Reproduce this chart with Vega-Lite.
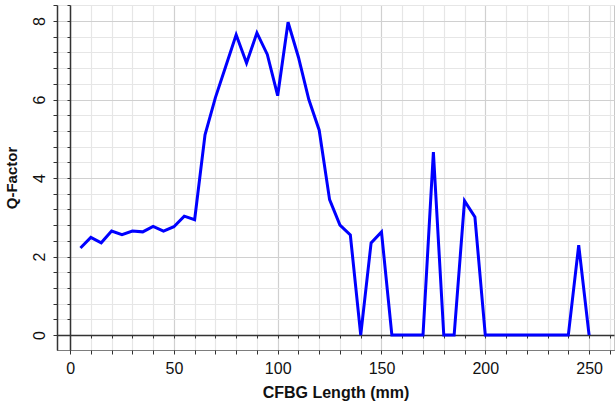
{
  "$schema": "https://vega.github.io/schema/vega-lite/v6.json",
  "width": 557,
  "height": 345,
  "autosize": {"type": "none"},
  "padding": {"left": 57, "top": 5, "right": 2, "bottom": 55},
  "background": "white",
  "config": {
    "view": {"stroke": "#c8c8c8", "strokeWidth": 1},
    "font": "Liberation Sans"
  },
  "data": {
    "values": [
      {"len": 5, "q": 2.22}, {"len": 10, "q": 2.49}, {"len": 15, "q": 2.35}, {"len": 20, "q": 2.65},
      {"len": 25, "q": 2.56}, {"len": 30, "q": 2.65}, {"len": 35, "q": 2.63}, {"len": 40, "q": 2.77},
      {"len": 45, "q": 2.65}, {"len": 50, "q": 2.76}, {"len": 55, "q": 3.03}, {"len": 60, "q": 2.94},
      {"len": 65, "q": 5.1}, {"len": 70, "q": 6.05}, {"len": 75, "q": 6.85}, {"len": 80, "q": 7.65},
      {"len": 85, "q": 6.93}, {"len": 90, "q": 7.7}, {"len": 95, "q": 7.15}, {"len": 100, "q": 6.1},
      {"len": 105, "q": 7.97}, {"len": 110, "q": 7.08}, {"len": 115, "q": 6.0}, {"len": 120, "q": 5.22},
      {"len": 125, "q": 3.45}, {"len": 130, "q": 2.8}, {"len": 135, "q": 2.55}, {"len": 140, "q": 0},
      {"len": 145, "q": 2.35}, {"len": 150, "q": 2.63}, {"len": 155, "q": 0}, {"len": 160, "q": 0},
      {"len": 165, "q": 0}, {"len": 170, "q": 0}, {"len": 175, "q": 4.66}, {"len": 180, "q": 0},
      {"len": 185, "q": 0}, {"len": 190, "q": 3.42}, {"len": 195, "q": 3.01}, {"len": 200, "q": 0},
      {"len": 205, "q": 0}, {"len": 210, "q": 0}, {"len": 215, "q": 0}, {"len": 220, "q": 0},
      {"len": 225, "q": 0}, {"len": 230, "q": 0}, {"len": 235, "q": 0}, {"len": 240, "q": 0},
      {"len": 245, "q": 2.29}, {"len": 250, "q": 0}
    ]
  },
  "resolve": {"axis": {"x": "independent", "y": "independent"}},
  "layer": [
    {
      "mark": {"type": "line", "opacity": 0},
      "encoding": {
        "x": {
          "field": "len", "type": "quantitative",
          "scale": {"domain": [-6.3, 262], "nice": false, "zero": false},
          "axis": {
            "orient": "bottom",
            "values": [0,10,20,30,40,50,60,70,80,90,100,110,120,130,140,150,160,170,180,190,200,210,220,230,240,250,260],
            "grid": true,
            "gridColor": {"condition": {"test": "datum.value % 50 == 0", "value": "#d0d0d0"}, "value": "#e6e6e6"},
            "gridWidth": 1.2,
            "labelExpr": "datum.value % 50 == 0 ? '' + datum.value : ''",
            "labelOverlap": false,
            "labelFontSize": 16,
            "labelColor": "#111",
            "labelPadding": 6,
            "labelFlush": false,
            "tickSize": 4,
            "tickColor": "#333",
            "domainColor": "#333",
            "domainDash": [1, 1],
            "title": "CFBG Length (mm)",
            "titleFontSize": 16,
            "titleFontWeight": "bold",
            "titleColor": "#111",
            "titlePadding": 8
          }
        },
        "y": {
          "field": "q", "type": "quantitative",
          "scale": {"domain": [-0.38, 8.41], "nice": false, "zero": false},
          "axis": {
            "orient": "left",
            "values": [0,0.4,0.8,1.2,1.6,2,2.4,2.8,3.2,3.6,4,4.4,4.8,5.2,5.6,6,6.4,6.8,7.2,7.6,8,8.4],
            "grid": true,
            "gridColor": {"condition": {"test": "datum.value % 2 == 0", "value": "#d0d0d0"}, "value": "#e6e6e6"},
            "gridWidth": 1.2,
            "labelExpr": "datum.value % 2 == 0 ? '' + datum.value : ''",
            "labelOverlap": false,
            "labelAngle": -90,
            "labelAlign": "center",
            "labelBaseline": "bottom",
            "labelFontSize": 16,
            "labelColor": "#111",
            "labelPadding": 6,
            "labelFlush": false,
            "tickSize": 4,
            "tickColor": "#333",
            "domainColor": "#333",
            "domainWidth": 1.5,
            "title": "Q-Factor",
            "titleFontSize": 15,
            "titleFontWeight": "bold",
            "titleColor": "#111",
            "titlePadding": 12
          }
        }
      }
    },
    {
      "mark": {"type": "line", "color": "#0000ff", "strokeWidth": 3},
      "encoding": {
        "x": {
          "field": "len", "type": "quantitative",
          "axis": {
            "orient": "bottom",
            "offset": -15,
            "values": [0,10,20,30,40,50,60,70,80,90,100,110,120,130,140,150,160,170,180,190,200,210,220,230,240,250,260],
            "grid": false,
            "labels": false,
            "title": null,
            "tickSize": 3,
            "tickColor": "#333",
            "domainColor": "#333",
            "domainWidth": 1.5
          }
        },
        "y": {
          "field": "q", "type": "quantitative",
          "axis": {
            "orient": "left",
            "offset": -13,
            "values": [0,0.4,0.8,1.2,1.6,2,2.4,2.8,3.2,3.6,4,4.4,4.8,5.2,5.6,6,6.4,6.8,7.2,7.6,8,8.4],
            "grid": false,
            "labels": false,
            "title": null,
            "tickSize": 3,
            "tickColor": "#333",
            "domainColor": "#333",
            "domainWidth": 1.5
          }
        }
      }
    }
  ]
}
